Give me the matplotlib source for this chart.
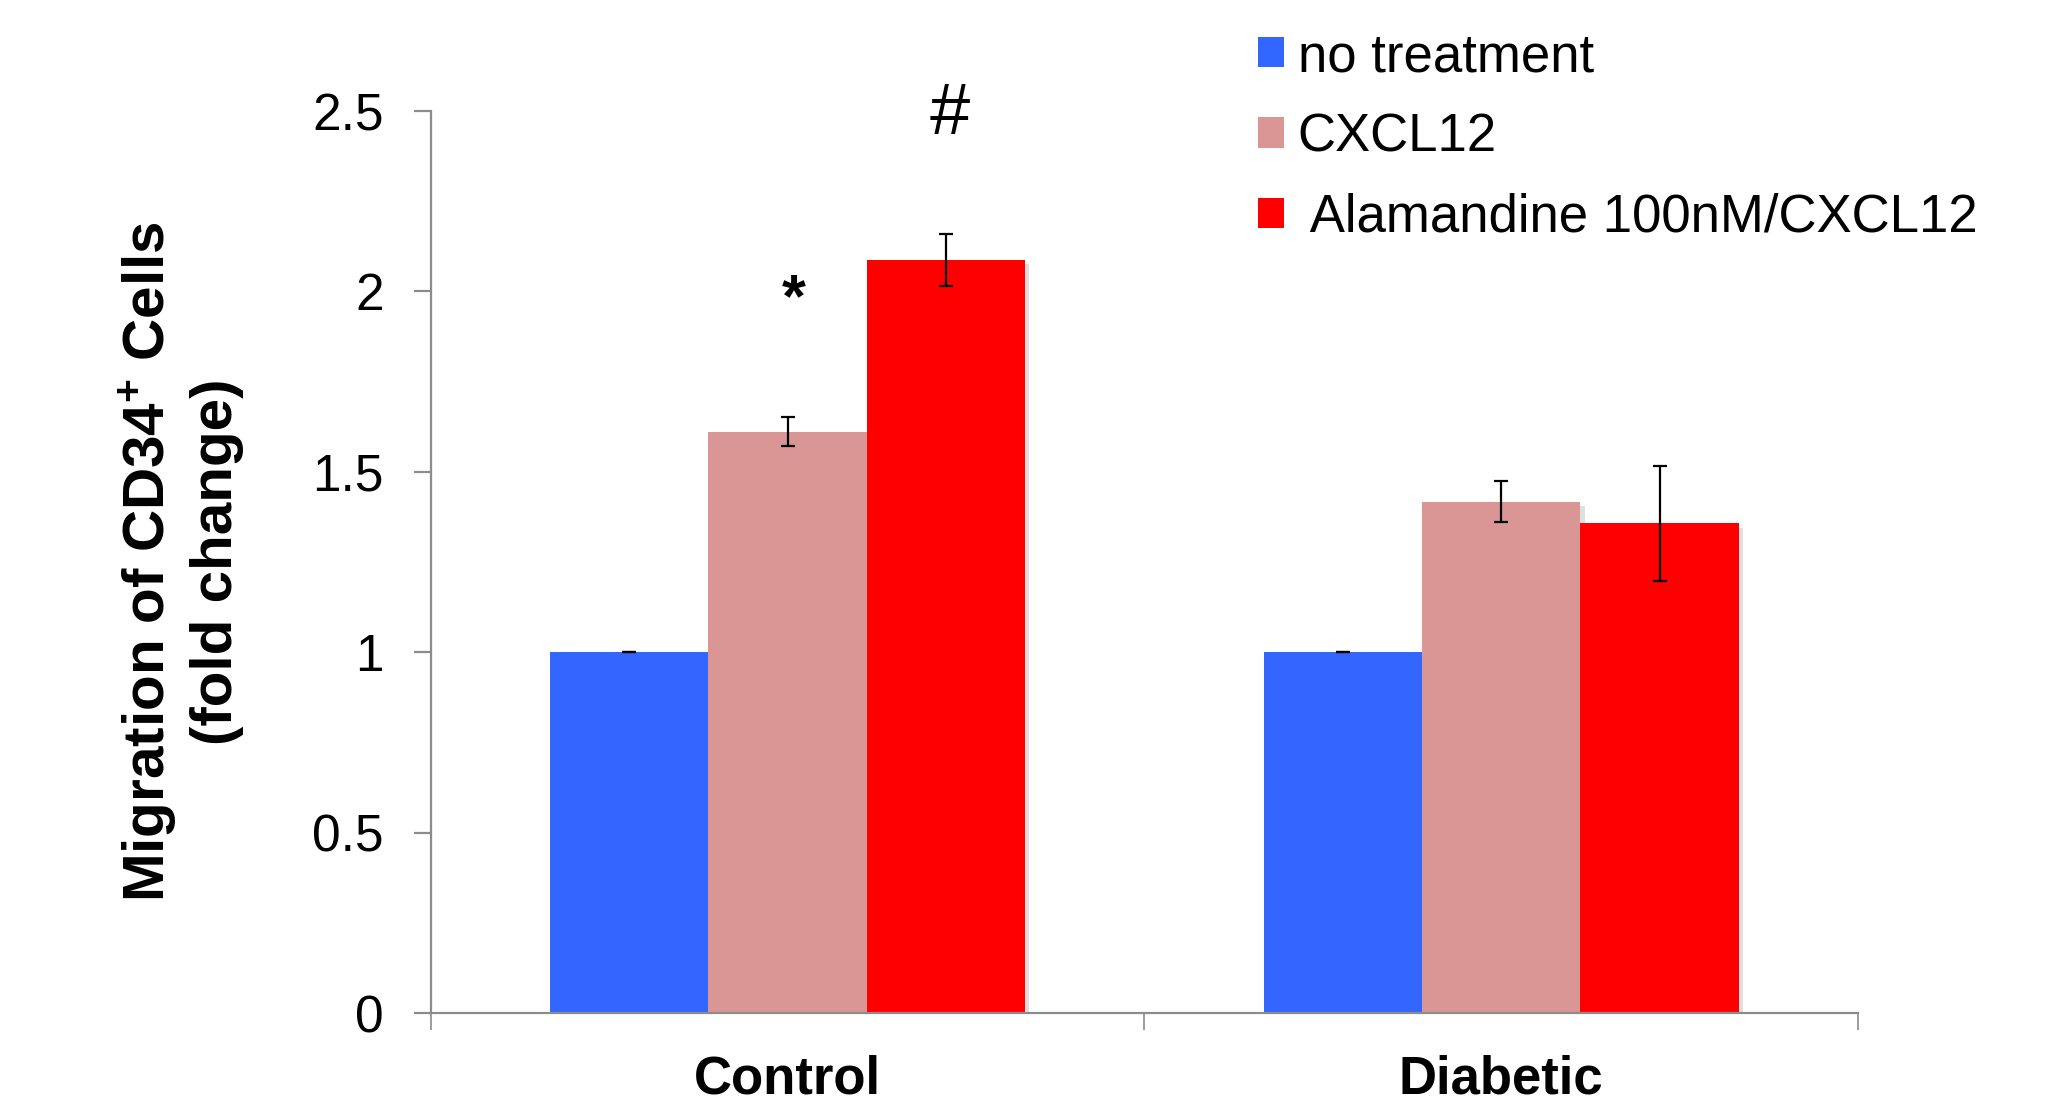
# CD34+ 細胞の遊走 (fold change) 棒グラフ
import numpy as np
import matplotlib
matplotlib.use("Agg")
from matplotlib import pyplot as plt
from matplotlib.patches import Patch
import matplotlib.patheffects as pe

plt.rcParams['font.family'] = ['Liberation Sans', 'DejaVu Sans']
plt.rcParams['mathtext.fontset'] = 'custom'
plt.rcParams['mathtext.rm'] = 'Liberation Sans'
plt.rcParams['mathtext.bf'] = 'Liberation Sans:bold'

# data
groups = ["Control", "Diabetic"]
series_names = ["no treatment", "CXCL12", " Alamandine 100nM/CXCL12"]
no_treatment = [1.0, 1.0]
cxcl12       = [1.611, 1.417]
alamandine   = [2.087, 1.357]
no_treatment_err = [0.0, 0.0]
cxcl12_err       = [0.040, 0.057]
alamandine_err   = [0.073, 0.160]
colors = ["#3366FF", "#D99694", "#FF0000"]

# 有意差マーク (group index, series index, text)
marks = [(0, 1, "*"), (0, 2, "#")]
mark_y = {"*": 1.93, "#": 2.435}

values = [no_treatment, cxcl12, alamandine]
errors = [no_treatment_err, cxcl12_err, alamandine_err]

fig = plt.figure(figsize=(20.55, 11.08), dpi=100)
ax = fig.add_axes([0.2097, 0.0857, 0.6944, 0.8141])

x = np.arange(len(groups))
width = 0.222
shadow = [pe.SimplePatchShadow(offset=(3, -3), shadow_rgbFace='gray', alpha=0.25), pe.Normal()]
for i, (vals, errs) in enumerate(zip(values, errors)):
    pos = x + (i - 1) * width
    bars = ax.bar(pos, vals, width, color=colors[i], zorder=2)
    for b in bars:
        b.set_path_effects(shadow)
    ax.errorbar(pos, vals, yerr=errs, fmt='none', ecolor='black',
                elinewidth=1.6, capsize=5, capthick=1.6, zorder=3)

for g, s, txt in marks:
    xx = x[g] + (s - 1) * width
    if txt == "*":
        ax.text(xx + 0.008, mark_y[txt], txt, ha='center', va='baseline',
                fontsize=44, fontweight='bold', clip_on=False)
    else:
        ax.text(xx + 0.005, mark_y[txt], txt, ha='center', va='baseline',
                fontsize=52, clip_on=False)

ax.set_xlim(-0.5, 1.5)
ax.set_ylim(0, 2.5)
ax.set_yticks([0, 0.5, 1, 1.5, 2, 2.5])
ax.set_yticklabels(["0", "0.5", "1", "1.5", "2", "2.5"])
ax.set_xticks(x)
ax.set_xticklabels(groups, fontweight='bold', fontsize=38)
ax.set_xticks([-0.5, 0.5, 1.5], minor=True)

axis_gray = "#8C8C8C"
for sp in ["top", "right"]:
    ax.spines[sp].set_visible(False)
for sp in ["left", "bottom"]:
    ax.spines[sp].set_color(axis_gray)
    ax.spines[sp].set_linewidth(1.6)

ax.tick_params(axis='y', labelsize=37, length=12, width=1.6, color=axis_gray, pad=22)
ax.tick_params(axis='x', which='major', length=0, pad=30)
ax.tick_params(axis='x', which='minor', length=12, width=1.2, color=axis_gray)

ax.set_ylabel("Migration of CD34$^{\\mathbf{+}}$ Cells\n(fold change)",
              fontsize=42, fontweight='bold', linespacing=1.25)
ax.yaxis.set_label_coords(-0.131, 0.5)

handles = [Patch(facecolor=c) for c in colors]
fig.legend(handles, series_names, loc='upper left', bbox_to_anchor=(0.612, 0.971),
           frameon=False, fontsize=38, handlelength=0.5, handleheight=0.5,
           handletextpad=0.26, labelspacing=0.57, borderpad=0, borderaxespad=0)

plt.savefig("out.png", dpi=100)
